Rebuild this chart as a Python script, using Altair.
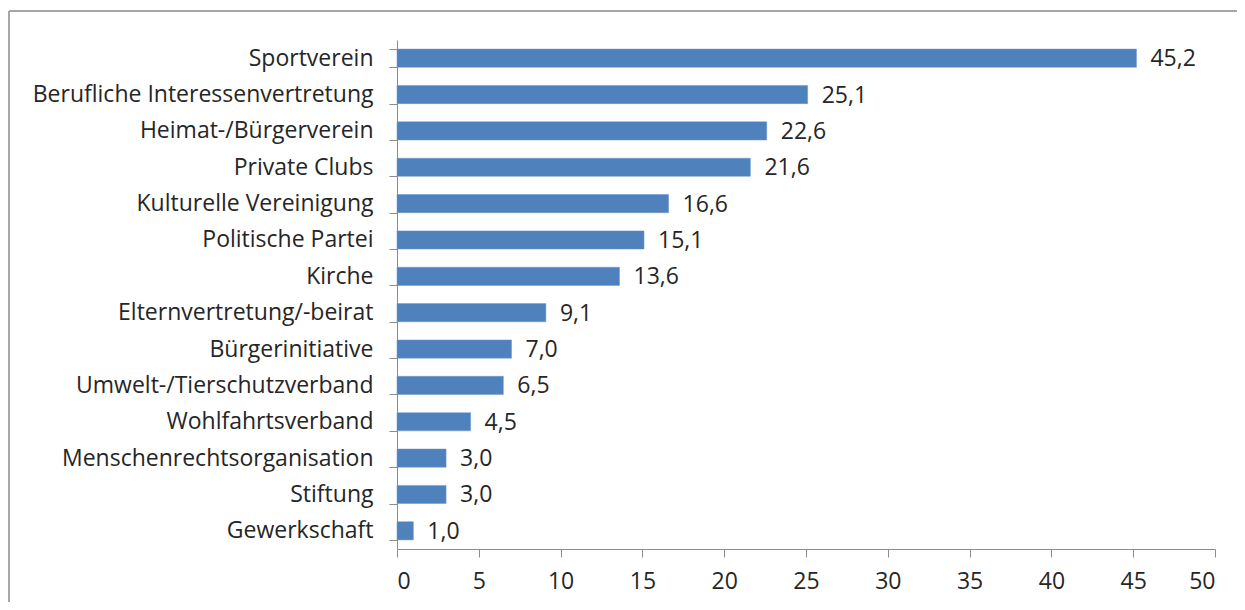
import altair as alt
import pandas as pd

categories = [
    "Sportverein", "Berufliche Interessenvertretung", "Heimat-/Bürgerverein",
    "Private Clubs", "Kulturelle Vereinigung", "Politische Partei", "Kirche",
    "Elternvertretung/-beirat", "Bürgerinitiative", "Umwelt-/Tierschutzverband",
    "Wohlfahrtsverband", "Menschenrechtsorganisation", "Stiftung", "Gewerkschaft",
]
values = [45.2, 25.1, 22.6, 21.6, 16.6, 15.1, 13.6, 9.1, 7.0, 6.5, 4.5, 3.0, 3.0, 1.0]
x_ticks = [0, 5, 10, 15, 20, 25, 30, 35, 40, 45, 50]

df = pd.DataFrame({
    "cat": categories,
    "val": values,
    "lbl": [f"{v:.1f}".replace(".", ",") for v in values],
})

FONT = "Open Sans"
FS = 23
TXT = "#262626"
W, H = 818, 509

y_enc = alt.Y("cat:N", sort=categories, title=None,
              scale=alt.Scale(paddingInner=0.5, paddingOuter=0.25))

bars = alt.Chart(df).mark_bar(color="#4f81bd", stroke="#6b97cc", strokeWidth=0.5).encode(
    x=alt.X("val:Q", title=None,
            scale=alt.Scale(domain=[0, 50], nice=False),
            axis=alt.Axis(values=x_ticks, grid=False, tickSize=8, labelPadding=13,
                          domainColor="#8c8c8c", tickColor="#8c8c8c",
                          labelColor=TXT, labelFontSize=FS, labelFont=FONT)),
    y=alt.Y("cat:N", sort=categories, title=None,
            scale=alt.Scale(paddingInner=0.5, paddingOuter=0.25),
            axis=alt.Axis(tickBand="extent", tickSize=8, labelPadding=16,
                          domainColor="#8c8c8c", tickColor="#8c8c8c",
                          labelColor=TXT, labelFontSize=FS, labelFont=FONT,
                          labelLimit=500)),
)

text = alt.Chart(df).mark_text(align="left", baseline="middle", dx=14, dy=1,
                               font=FONT, fontSize=FS, color=TXT).encode(
    x="val:Q", y=y_enc, text="lbl:N"
)

frame_top = alt.Chart(df).mark_rule(color="#a6a6a6", strokeWidth=2).encode(
    x=alt.value(-388), x2=alt.value(900), y=alt.value(-29)
)
frame_left = alt.Chart(df).mark_rule(color="#a6a6a6", strokeWidth=2).encode(
    x=alt.value(-388), y=alt.value(-29), y2=alt.value(620)
)

chart = alt.layer(bars, text, frame_top, frame_left).properties(
    width=W, height=H,
    autosize=alt.AutoSizeParams(type="none"),
    padding={"left": 389, "top": 32, "right": 22, "bottom": 53},
).configure_view(stroke=None)

chart.save("out.html", embed_options={"renderer": "svg", "actions": False})
